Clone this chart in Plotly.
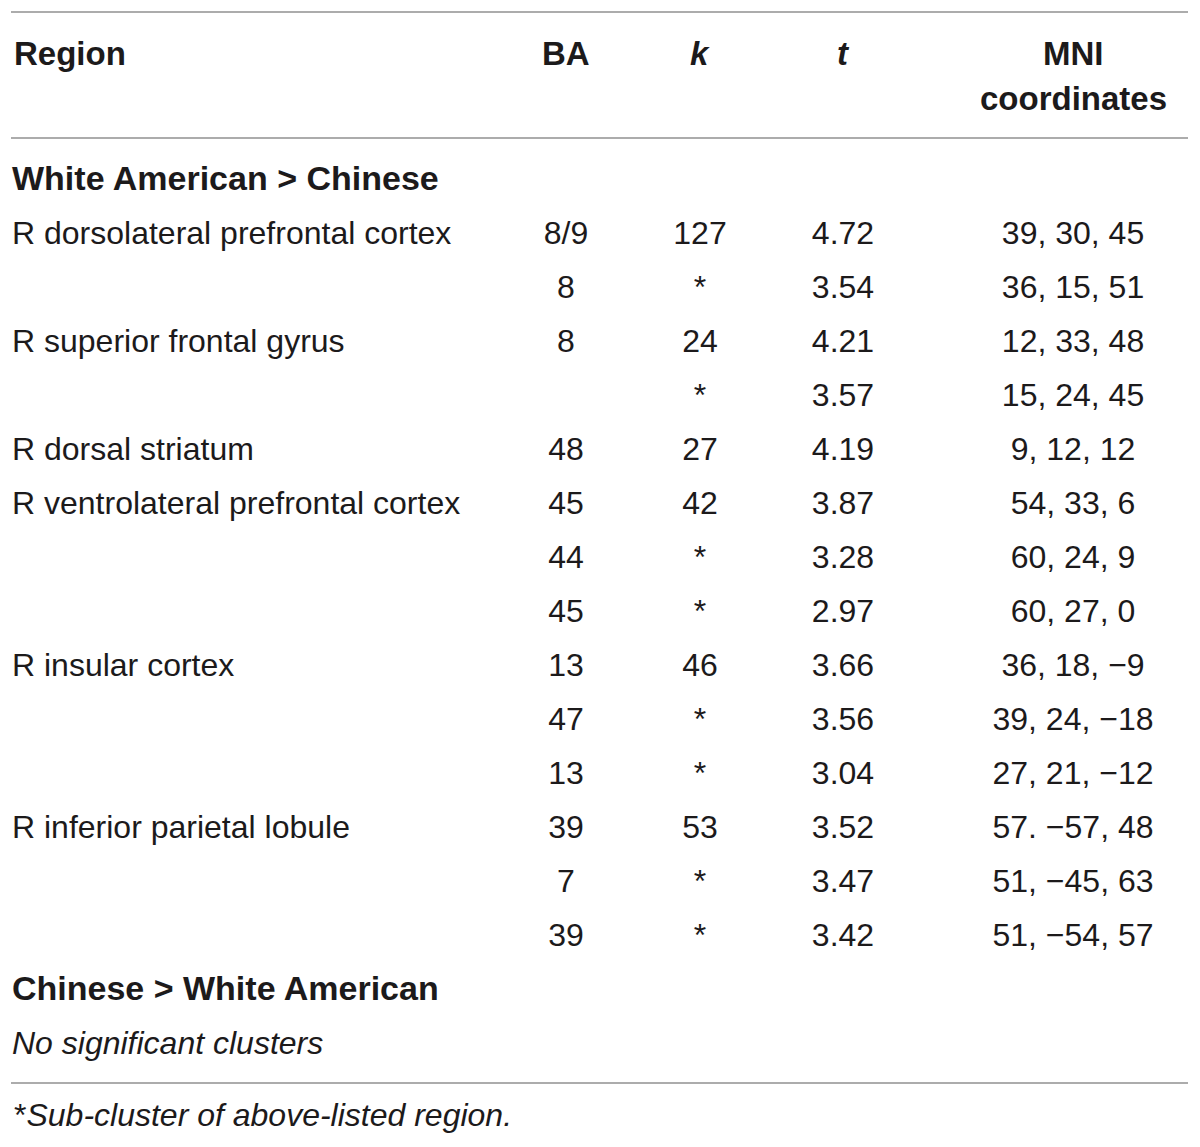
import plotly.graph_objects as go

# Table data (row by row)
region = ["R dorsolateral prefrontal cortex", "", "R superior frontal gyrus", "",
          "R dorsal striatum", "R ventrolateral prefrontal cortex", "", "",
          "R insular cortex", "", "", "R inferior parietal lobule", "", ""]
ba = ["8/9", "8", "8", "", "48", "45", "44", "45", "13", "47", "13", "39", "7", "39"]
k = ["127", "*", "24", "*", "27", "42", "*", "*", "46", "*", "*", "53", "*", "*"]
t = ["4.72", "3.54", "4.21", "3.57", "4.19", "3.87", "3.28", "2.97",
     "3.66", "3.56", "3.04", "3.52", "3.47", "3.42"]
mni = ["39, 30, 45", "36, 15, 51", "12, 33, 48", "15, 24, 45", "9, 12, 12",
       "54, 33, 6", "60, 24, 9", "60, 27, 0", "36, 18, −9", "39, 24, −18",
       "27, 21, −12", "57. −57, 48", "51, −45, 63", "51, −54, 57"]

headers = ["Region", "BA", "<i>k</i>", "<i>t</i>", "MNI"]
header_2 = "coordinates"
group_1 = "White American &gt; Chinese"
group_2 = "Chinese &gt; White American"
no_result = "No significant clusters"
footnote = "Sub-cluster of above-listed region."


def heading(s):
    return '<span style="font-size:34px"><b>' + s + '</b></span>'


# full rows with the section headings
col_region = [heading(group_1)] + region + [heading(group_2), "<i>" + no_result + "</i>"]
blank = [" "]
col_ba = blank + [b if b else " " for b in ba] + blank * 2
col_k = blank + k + blank * 2
col_t = blank + t + blank * 2
col_mni = blank + mni + blank * 2
col_region = [r if r else " " for r in col_region]

# layout in pixels (page has an 8px body margin, so the axes are offset by it)
W, H = 1200, 1147
OFF = 8
first_row = 182
row_step = 54
rows_y = [first_row + row_step * i for i in range(len(col_region))]

FONT = "Liberation Sans, Arial, sans-serif"
TXT = "#1c1a1b"
SIZE = 32
BSIZE = 33

fig = go.Figure()

col_x = [12, 566, 700, 843, 1073]
columns = [col_region, col_ba, col_k, col_t, col_mni]
for i, col in enumerate(columns):
    fig.add_trace(go.Scatter(
        x=[col_x[i]] * len(col),
        y=rows_y,
        text=col,
        mode="text",
        textposition="middle right" if i == 0 else "middle center",
        textfont=dict(family=FONT, size=SIZE, color=TXT),
        hoverinfo="skip",
        showlegend=False,
    ))

# header
for i, h in enumerate(headers):
    fig.add_annotation(
        x=col_x[i], y=53, xref="x", yref="y",
        text="<b>" + h + "</b>",
        xanchor="left" if i == 0 else "center", yanchor="middle",
        showarrow=False,
        font=dict(family=FONT, size=BSIZE, color=TXT),
    )
fig.add_annotation(
    x=col_x[4], y=98, xref="x", yref="y",
    text="<b>" + header_2 + "</b>",
    xanchor="center", yanchor="middle", showarrow=False,
    font=dict(family=FONT, size=BSIZE, color=TXT),
)

# footnote
fig.add_annotation(
    x=12, y=1115, xref="x", yref="y",
    text="*<i>" + footnote + "</i>",
    xanchor="left", yanchor="middle", showarrow=False,
    font=dict(family=FONT, size=32, color=TXT),
)

# horizontal rules
for yy in [12, 138, 1083]:
    fig.add_shape(type="line", x0=11, x1=1188, y0=yy, y1=yy, xref="x", yref="y",
                  line=dict(color="#909090", width=1.5))

fig.update_xaxes(range=[OFF, W + OFF], visible=False, fixedrange=True)
fig.update_yaxes(range=[H + OFF, OFF], visible=False, fixedrange=True)
fig.update_layout(
    width=W, height=H,
    margin=dict(l=0, r=0, t=0, b=0),
    paper_bgcolor="white", plot_bgcolor="white",
)

fig.write_html("out.html")
